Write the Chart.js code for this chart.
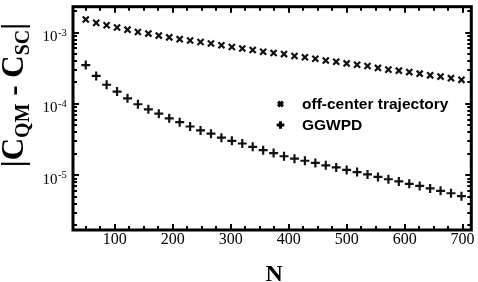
<!DOCTYPE html>
<html>
<head>
<meta charset="utf-8">
<script src="https://cdn.jsdelivr.net/npm/chart.js@4.4.1/dist/chart.umd.min.js"></script>
<style>
  html, body { margin: 0; padding: 0; background: #fff; }
  #wrap { width: 478px; height: 282px; }
</style>
</head>
<body>
<div id="wrap"><canvas id="chart" width="478" height="282"></canvas></div>
<script>
// --- Data ---
const N_VALUES = [50, 68, 86, 104, 122, 140, 158, 176, 194, 212, 230, 248, 266, 284, 302, 320, 338, 356, 374,
  392, 410, 428, 446, 464, 482, 500, 518, 536, 554, 572, 590, 608, 626, 644, 662, 680, 698];

const OFF_CENTER = [1.53e-3, 1.37e-3, 1.27e-3, 1.18e-3, 1.10e-3, 1.02e-3, 9.7e-4, 9.1e-4, 8.6e-4, 8.1e-4,
  7.75e-4, 7.4e-4, 7.05e-4, 6.65e-4, 6.3e-4, 6.0e-4, 5.7e-4, 5.4e-4, 5.18e-4, 5.0e-4,
  4.7e-4, 4.52e-4, 4.3e-4, 4.07e-4, 3.9e-4, 3.7e-4, 3.55e-4, 3.4e-4, 3.2e-4, 3.03e-4,
  2.93e-4, 2.8e-4, 2.66e-4, 2.52e-4, 2.42e-4, 2.3e-4, 2.18e-4];

const GGWPD = [3.51e-4, 2.47e-4, 1.86e-4, 1.49e-4, 1.20e-4, 9.9e-5, 8.4e-5, 7.3e-5, 6.3e-5, 5.55e-5,
  4.83e-5, 4.26e-5, 3.83e-5, 3.37e-5, 3.04e-5, 2.79e-5, 2.51e-5, 2.25e-5, 2.05e-5, 1.85e-5,
  1.71e-5, 1.60e-5, 1.49e-5, 1.38e-5, 1.29e-5, 1.19e-5, 1.11e-5, 1.03e-5, 9.5e-6, 8.8e-6,
  8.2e-6, 7.6e-6, 7.1e-6, 6.55e-6, 6.05e-6, 5.6e-6, 5.1e-6];

const SERIES_LABELS = ["off-center trajectory", "GGWPD"];
const X_TICKS = [100, 200, 300, 400, 500, 600, 700];
const X_MINOR = [50, 75, 125, 150, 175, 225, 250, 275, 325, 350, 375, 425, 450, 475, 525, 550, 575, 625, 650, 675];
const Y_TICKS = [1e-5, 1e-4, 1e-3];
const Y_TICK_EXP = ["-5", "-4", "-3"];
const Y_MINOR = [2e-6, 3e-6, 4e-6, 5e-6, 6e-6, 7e-6, 8e-6, 9e-6,
  2e-5, 3e-5, 4e-5, 5e-5, 6e-5, 7e-5, 8e-5, 9e-5,
  2e-4, 3e-4, 4e-4, 5e-4, 6e-4, 7e-4, 8e-4, 9e-4, 2e-3];

// --- Frame, ticks, labels, titles, legend ---
const framePlugin = {
  id: "frame",
  afterDraw(chart) {
    const { ctx, chartArea: a, scales } = chart;
    const xs = scales.x, ys = scales.y;
    ctx.save();
    ctx.strokeStyle = "#000";
    ctx.fillStyle = "#000";

    // inward ticks on all four sides
    ctx.lineWidth = 2;
    const tickX = (v, len) => {
      const px = Math.round(xs.getPixelForValue(v));
      ctx.beginPath();
      ctx.moveTo(px, a.bottom); ctx.lineTo(px, a.bottom - len);
      ctx.moveTo(px, a.top); ctx.lineTo(px, a.top + len);
      ctx.stroke();
    };
    const tickY = (v, len) => {
      const py = Math.round(ys.getPixelForValue(v));
      ctx.beginPath();
      ctx.moveTo(a.left, py); ctx.lineTo(a.left + len, py);
      ctx.moveTo(a.right, py); ctx.lineTo(a.right - len, py);
      ctx.stroke();
    };
    X_TICKS.forEach((v) => tickX(v, 6));
    X_MINOR.forEach((v) => tickX(v, 4));
    Y_TICKS.forEach((v) => tickY(v, 6));
    Y_MINOR.forEach((v) => tickY(v, 4));

    // frame
    ctx.lineWidth = 3;
    ctx.strokeRect(a.left, a.top, a.right - a.left, a.bottom - a.top);

    // x tick labels
    ctx.font = "16px 'Liberation Serif'";
    ctx.textAlign = "center";
    ctx.textBaseline = "alphabetic";
    X_TICKS.forEach((v) => {
      ctx.fillText(String(v), xs.getPixelForValue(v), a.bottom + 14);
    });

    // y tick labels: 10 with superscript exponent
    Y_TICKS.forEach((v, i) => {
      const py = ys.getPixelForValue(v);
      ctx.font = "15px 'Liberation Serif'";
      ctx.textAlign = "right";
      ctx.fillText("10", 57.5, py + 8.5);
      ctx.font = "10.5px 'Liberation Serif'";
      ctx.textAlign = "left";
      ctx.fillText(Y_TICK_EXP[i], 58, py + 3);
    });

    // x title
    ctx.font = "bold 24px 'Liberation Serif'";
    ctx.textAlign = "center";
    ctx.fillText("N", (a.left + a.right) / 2 + 2, 281);

    // y title |C_QM - C_SC|
    const parts = [
      { t: "|C", big: true }, { t: "QM", big: false },
      { t: " - C", big: true }, { t: "SC", big: false }, { t: "|", big: true },
    ];
    const bigFont = "bold 31px 'Liberation Serif'";
    const smallFont = "bold 20px 'Liberation Serif'";
    let total = 0;
    parts.forEach((p) => {
      ctx.font = p.big ? bigFont : smallFont;
      p.w = ctx.measureText(p.t).width;
      total += p.w;
    });
    ctx.save();
    ctx.translate(23, 95);
    ctx.rotate(-Math.PI / 2);
    ctx.textAlign = "left";
    let cx = -total / 2;
    parts.forEach((p) => {
      ctx.font = p.big ? bigFont : smallFont;
      ctx.fillText(p.t, cx, p.big ? 0 : 6);
      cx += p.w;
    });
    ctx.restore();

    // legend
    const ds = chart.data.datasets;
    const rows = [{ y: 104, base: 108.5 }, { y: 125, base: 130 }];
    ctx.font = "bold 15.5px 'Liberation Sans'";
    ctx.textAlign = "left";
    rows.forEach((r, i) => {
      Chart.helpers.drawPoint(ctx, {
        pointStyle: ds[i].pointStyle, radius: i === 0 ? 3.4 : 3.8, borderWidth: 1.8,
      }, 280.5, r.y);
      ctx.fillText(SERIES_LABELS[i], 302, r.base);
    });
    ctx.restore();
  },
};

new Chart(document.getElementById("chart").getContext("2d"), {
  type: "scatter",
  data: {
    datasets: [
      {
        label: SERIES_LABELS[0],
        data: N_VALUES.map((n, i) => ({ x: n, y: OFF_CENTER[i] })),
        pointStyle: "crossRot",
        pointRadius: 4.3,
        borderWidth: 2.2,
        borderColor: "#111",
        backgroundColor: "#111",
      },
      {
        label: SERIES_LABELS[1],
        data: N_VALUES.map((n, i) => ({ x: n, y: GGWPD[i] })),
        pointStyle: "cross",
        pointRadius: 4.5,
        borderWidth: 2.2,
        borderColor: "#111",
        backgroundColor: "#111",
      },
    ],
  },
  options: {
    responsive: false,
    animation: false,
    devicePixelRatio: 1,
    layout: { padding: { left: 73, right: 5, top: 3, bottom: 52 } },
    plugins: { legend: { display: false }, tooltip: { enabled: false } },
    scales: {
      x: { type: "linear", min: 28, max: 715, display: false },
      y: { type: "logarithmic", min: 1.71e-6, max: 2.31e-3, display: false },
    },
  },
  plugins: [framePlugin],
});
</script>
</body>
</html>
